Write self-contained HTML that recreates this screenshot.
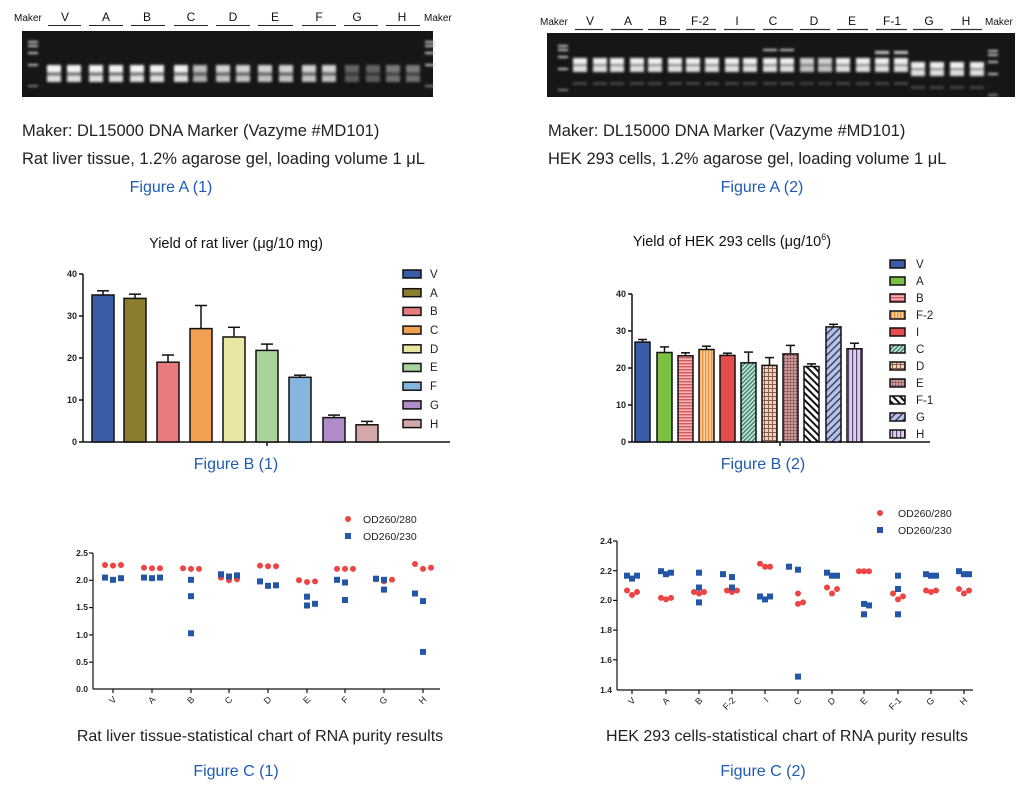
<!DOCTYPE html>
<html><head><meta charset="utf-8"><style>
html,body{margin:0;padding:0;background:#fff}
svg{display:block;font-family:"Liberation Sans",Arial,sans-serif}
</style></head><body>
<svg width="1028" height="792" viewBox="0 0 1028 792" xmlns="http://www.w3.org/2000/svg">
<defs>
<filter id="bl" x="-50%" y="-100%" width="200%" height="300%"><feGaussianBlur stdDeviation="1.4"/></filter>
<g id="ln1" filter="url(#bl)"><rect x="-7" y="65" width="14" height="7" fill="#f4f4f4"/><rect x="-7" y="76" width="14" height="6" fill="#e0e0e0"/><rect x="-7" y="72" width="14" height="4" fill="#777"/></g>
<g id="ln2" filter="url(#bl)"><rect x="-7" y="58" width="14" height="6" fill="#f0f0f0"/><rect x="-7" y="66" width="14" height="6" fill="#e0e0e0"/><rect x="-7" y="64" width="14" height="2" fill="#666"/><rect x="-7" y="82" width="14" height="3" fill="#444"/></g>
<g id="mk" filter="url(#bl)" fill="#ccc"><rect x="-5" y="0" width="10" height="2"/><rect x="-5" y="4" width="10" height="2"/><rect x="-5" y="11" width="10" height="2"/><rect x="-5" y="23" width="10" height="2"/><rect x="-5" y="44" width="10" height="2" opacity=".6"/></g>
<pattern id="pB" width="4" height="3" patternUnits="userSpaceOnUse"><rect width="4" height="3" fill="#f2b4b4"/><rect width="4" height="1.4" fill="#d9585e"/></pattern>
<pattern id="pF2" width="3" height="4" patternUnits="userSpaceOnUse"><rect width="3" height="4" fill="#fbd2a0"/><rect width="1.4" height="4" fill="#e8903a"/></pattern>
<pattern id="pC" width="3" height="3" patternUnits="userSpaceOnUse" patternTransform="rotate(45)"><rect width="3" height="3" fill="#cfe6dc"/><rect width="1.5" height="3" fill="#3f8a72"/></pattern>
<pattern id="pD" width="4" height="4" patternUnits="userSpaceOnUse"><rect width="4" height="4" fill="#e8d4c4"/><rect width="1" height="4" fill="#8a6048"/><rect width="4" height="1" fill="#8a6048"/></pattern>
<pattern id="pE" width="3" height="3" patternUnits="userSpaceOnUse"><rect width="3" height="3" fill="#c89898"/><circle cx="1.5" cy="1.5" r="0.9" fill="#6a3a3a"/></pattern>
<pattern id="pF1" width="5" height="5" patternUnits="userSpaceOnUse" patternTransform="rotate(-45)"><rect width="5" height="5" fill="#fff"/><rect width="2" height="5" fill="#111"/></pattern>
<pattern id="pG" width="5" height="5" patternUnits="userSpaceOnUse" patternTransform="rotate(45)"><rect width="5" height="5" fill="#b8c2e4"/><rect width="1.3" height="5" fill="#2a3460"/></pattern>
<pattern id="pH" width="4" height="4" patternUnits="userSpaceOnUse"><rect width="4" height="4" fill="#ddd0ee"/><rect width="1.2" height="4" fill="#5a4a70"/></pattern>
</defs>

<!-- Gel 1 -->
<g font-size="12" fill="#111">
<text x="14" y="21" font-size="10">Maker</text>
<text x="424" y="21" font-size="10">Maker</text>
<g text-anchor="middle">
<text x="65" y="21">V</text><text x="106" y="21">A</text><text x="147" y="21">B</text><text x="191" y="21">C</text><text x="233" y="21">D</text><text x="275" y="21">E</text><text x="319" y="21">F</text><text x="357" y="21">G</text><text x="402" y="21">H</text>
</g>
<g stroke="#222" stroke-width="1">
<line x1="48" y1="25.5" x2="81" y2="25.5"/><line x1="89" y1="25.5" x2="123" y2="25.5"/><line x1="131" y1="25.5" x2="165" y2="25.5"/><line x1="174" y1="25.5" x2="208" y2="25.5"/><line x1="216" y1="25.5" x2="250" y2="25.5"/><line x1="258" y1="25.5" x2="293" y2="25.5"/><line x1="302" y1="25.5" x2="336" y2="25.5"/><line x1="344" y1="25.5" x2="378" y2="25.5"/><line x1="386" y1="25.5" x2="420" y2="25.5"/>
</g></g>
<rect x="22" y="31" width="411" height="66" fill="#161616"/>
<use href="#mk" x="33" y="41"/><use href="#mk" x="430" y="41"/>
<use href="#ln1" x="54"/><use href="#ln1" x="74"/><use href="#ln1" x="96"/><use href="#ln1" x="116"/><use href="#ln1" x="137"/><use href="#ln1" x="157"/><use href="#ln1" x="181"/><use href="#ln1" x="200" opacity=".75"/><use href="#ln1" x="223" opacity=".85"/><use href="#ln1" x="243" opacity=".85"/><use href="#ln1" x="265" opacity=".85"/><use href="#ln1" x="286" opacity=".85"/><use href="#ln1" x="309" opacity=".85"/><use href="#ln1" x="329" opacity=".85"/><use href="#ln1" x="352" opacity=".35"/><use href="#ln1" x="373" opacity=".35"/><use href="#ln1" x="393" opacity=".45"/><use href="#ln1" x="413" opacity=".45"/>

<!-- Gel 2 -->
<g font-size="12" fill="#111">
<text x="540" y="25" font-size="10">Maker</text>
<text x="985" y="25" font-size="10">Maker</text>
<g text-anchor="middle">
<text x="590" y="25">V</text><text x="628" y="25">A</text><text x="663" y="25">B</text><text x="700" y="25">F-2</text><text x="737" y="25">I</text><text x="773" y="25">C</text><text x="814" y="25">D</text><text x="852" y="25">E</text><text x="892" y="25">F-1</text><text x="929" y="25">G</text><text x="966" y="25">H</text>
</g>
<g stroke="#333" stroke-width="1.2">
<line x1="575" y1="29.5" x2="603" y2="29.5"/><line x1="611" y1="29.5" x2="643" y2="29.5"/><line x1="648" y1="29.5" x2="680" y2="29.5"/><line x1="686" y1="29.5" x2="716" y2="29.5"/><line x1="724" y1="29.5" x2="755" y2="29.5"/><line x1="763" y1="29.5" x2="793" y2="29.5"/><line x1="800" y1="29.5" x2="830" y2="29.5"/><line x1="837" y1="29.5" x2="868" y2="29.5"/><line x1="876" y1="29.5" x2="907" y2="29.5"/><line x1="913" y1="29.5" x2="943" y2="29.5"/><line x1="951" y1="29.5" x2="982" y2="29.5"/>
</g></g>
<rect x="547" y="33" width="468" height="64" fill="#161616"/>
<use href="#mk" x="563" y="45"/><use href="#mk" x="993" y="50"/>
<use href="#ln2" x="580"/><use href="#ln2" x="600"/><use href="#ln2" x="617"/><use href="#ln2" x="637"/><use href="#ln2" x="655"/><use href="#ln2" x="675"/><use href="#ln2" x="693"/><use href="#ln2" x="712"/><use href="#ln2" x="732"/><use href="#ln2" x="750"/><use href="#ln2" x="770"/><use href="#ln2" x="787"/><use href="#ln2" x="807" opacity=".85"/><use href="#ln2" x="825" opacity=".85"/><use href="#ln2" x="843"/><use href="#ln2" x="863"/><use href="#ln2" x="882"/><use href="#ln2" x="901"/><use href="#ln2" x="918" y="4"/><use href="#ln2" x="937" y="4"/><use href="#ln2" x="957" y="4"/><use href="#ln2" x="977" y="4"/>
<g fill="#ccc" filter="url(#bl)"><rect x="763" y="49" width="14" height="2"/><rect x="780" y="49" width="14" height="2"/><rect x="875" y="51" width="14" height="3"/><rect x="894" y="51" width="14" height="3"/></g>

<!-- captions A -->
<g font-size="16.5" fill="#222">
<text x="22" y="136">Maker: DL15000 DNA Marker (Vazyme #MD101)</text>
<text x="22" y="164">Rat liver tissue, 1.2% agarose gel, loading volume 1 μL</text>
<text x="548" y="136">Maker: DL15000 DNA Marker (Vazyme #MD101)</text>
<text x="548" y="164">HEK 293 cells, 1.2% agarose gel, loading volume 1 μL</text>
</g>
<g font-size="16" fill="#1f5bb5" text-anchor="middle">
<text x="171" y="192">Figure A (1)</text>
<text x="762" y="192">Figure A (2)</text>
<text x="236" y="469">Figure B (1)</text>
<text x="763" y="469">Figure B (2)</text>
<text x="236" y="776">Figure C (1)</text>
<text x="763" y="776">Figure C (2)</text>
</g>
<g font-size="16" fill="#222" text-anchor="middle">
<text x="260" y="741">Rat liver tissue-statistical chart of RNA purity results</text>
<text x="787" y="741">HEK 293 cells-statistical chart of RNA purity results</text>
</g>

<!-- Bar chart 1 -->
<text x="236" y="248" font-size="14.5" fill="#111" text-anchor="middle">Yield of rat liver (μg/10 mg)</text>
<g stroke="#111" stroke-width="1.5" fill="none">
<line x1="83" y1="274" x2="83" y2="442"/><line x1="83" y1="442" x2="450" y2="442"/>
<line x1="79" y1="274" x2="83" y2="274"/><line x1="79" y1="316" x2="83" y2="316"/><line x1="79" y1="358" x2="83" y2="358"/><line x1="79" y1="400" x2="83" y2="400"/><line x1="79" y1="442" x2="83" y2="442"/><line x1="267" y1="442" x2="267" y2="446"/>
</g>
<g font-size="9" font-weight="bold" fill="#222" text-anchor="end">
<text x="77" y="277">40</text><text x="77" y="319">30</text><text x="77" y="361">20</text><text x="77" y="403">10</text><text x="77" y="445">0</text>
</g>
<g stroke="#111" stroke-width="1.5">
<line x1="103" y1="295" x2="103" y2="290.8"/><line x1="97" y1="290.8" x2="109" y2="290.8"/>
<line x1="135" y1="298" x2="135" y2="294.2"/><line x1="129" y1="294.2" x2="141" y2="294.2"/>
<line x1="168" y1="362" x2="168" y2="355"/><line x1="162" y1="355" x2="174" y2="355"/>
<line x1="201" y1="328" x2="201" y2="305.5"/><line x1="195" y1="305.5" x2="207" y2="305.5"/>
<line x1="234" y1="337" x2="234" y2="327.3"/><line x1="228" y1="327.3" x2="240" y2="327.3"/>
<line x1="267" y1="350" x2="267" y2="344.1"/><line x1="261" y1="344.1" x2="273" y2="344.1"/>
<line x1="300" y1="377" x2="300" y2="375.2"/><line x1="294" y1="375.2" x2="306" y2="375.2"/>
<line x1="334" y1="417" x2="334" y2="415.1"/><line x1="328" y1="415.1" x2="340" y2="415.1"/>
<line x1="367" y1="424" x2="367" y2="421.4"/><line x1="361" y1="421.4" x2="373" y2="421.4"/>
<rect x="92" y="295" width="22" height="147" fill="#3a5da8"/>
<rect x="124" y="298.4" width="22" height="143.6" fill="#8b7d2e"/>
<rect x="157" y="362.2" width="22" height="79.8" fill="#e97b7f"/>
<rect x="190" y="328.6" width="22" height="113.4" fill="#f0a050"/>
<rect x="223" y="337" width="22" height="105" fill="#e8e8a4"/>
<rect x="256" y="350.4" width="22" height="91.6" fill="#a8d39a"/>
<rect x="289" y="377.3" width="22" height="64.7" fill="#86b6e0"/>
<rect x="323" y="417.6" width="22" height="24.4" fill="#b08cc8"/>
<rect x="356" y="424.8" width="22" height="17.2" fill="#d4a8a8"/>
</g>
<g stroke="#111" stroke-width="1.5">
<rect x="403" y="270" width="18" height="8" fill="#3a5da8"/>
<rect x="403" y="288.7" width="18" height="8" fill="#8b7d2e"/>
<rect x="403" y="307.4" width="18" height="8" fill="#e97b7f"/>
<rect x="403" y="326.1" width="18" height="8" fill="#f0a050"/>
<rect x="403" y="344.8" width="18" height="8" fill="#e8e8a4"/>
<rect x="403" y="363.5" width="18" height="8" fill="#a8d39a"/>
<rect x="403" y="382.2" width="18" height="8" fill="#86b6e0"/>
<rect x="403" y="400.9" width="18" height="8" fill="#b08cc8"/>
<rect x="403" y="419.6" width="18" height="8" fill="#d4a8a8"/>
</g>
<g font-size="11.5" fill="#222">
<text x="430" y="278">V</text><text x="430" y="297">A</text><text x="430" y="315">B</text><text x="430" y="334">C</text><text x="430" y="353">D</text><text x="430" y="371">E</text><text x="430" y="390">F</text><text x="430" y="409">G</text><text x="430" y="428">H</text>
</g>

<!-- Bar chart 2 -->
<text x="732" y="246" font-size="14.5" fill="#111" text-anchor="middle">Yield of HEK 293 cells (μg/10<tspan font-size="9" dy="-6">6</tspan><tspan dy="6">)</tspan></text>
<g stroke="#111" stroke-width="1.5" fill="none">
<line x1="632" y1="294" x2="632" y2="442"/><line x1="632" y1="442" x2="930" y2="442"/>
<line x1="628" y1="294" x2="632" y2="294"/><line x1="628" y1="331" x2="632" y2="331"/><line x1="628" y1="368" x2="632" y2="368"/><line x1="628" y1="405" x2="632" y2="405"/><line x1="628" y1="442" x2="632" y2="442"/><line x1="780" y1="442" x2="780" y2="446"/>
</g>
<g font-size="9" font-weight="bold" fill="#222" text-anchor="end">
<text x="626" y="297">40</text><text x="626" y="334">30</text><text x="626" y="371">20</text><text x="626" y="408">10</text><text x="626" y="445">0</text>
</g>
<g stroke="#111" stroke-width="1.5">
<line x1="642.5" y1="342" x2="642.5" y2="339.5"/><line x1="638" y1="339.5" x2="647" y2="339.5"/>
<line x1="664.5" y1="352" x2="664.5" y2="346.9"/><line x1="660" y1="346.9" x2="669" y2="346.9"/>
<line x1="685.5" y1="355" x2="685.5" y2="352.8"/><line x1="681" y1="352.8" x2="690" y2="352.8"/>
<line x1="706.5" y1="349" x2="706.5" y2="346.2"/><line x1="702" y1="346.2" x2="711" y2="346.2"/>
<line x1="727.5" y1="355" x2="727.5" y2="353.2"/><line x1="723" y1="353.2" x2="732" y2="353.2"/>
<line x1="748.5" y1="362" x2="748.5" y2="352.1"/><line x1="744" y1="352.1" x2="753" y2="352.1"/>
<line x1="769.5" y1="365" x2="769.5" y2="357.6"/><line x1="765" y1="357.6" x2="774" y2="357.6"/>
<line x1="790.5" y1="353" x2="790.5" y2="345.4"/><line x1="786" y1="345.4" x2="795" y2="345.4"/>
<line x1="811.5" y1="366" x2="811.5" y2="363.9"/><line x1="807" y1="363.9" x2="816" y2="363.9"/>
<line x1="833.5" y1="326" x2="833.5" y2="324.3"/><line x1="829" y1="324.3" x2="838" y2="324.3"/>
<line x1="854.5" y1="348" x2="854.5" y2="343.2"/><line x1="850" y1="343.2" x2="859" y2="343.2"/>
<rect x="635" y="342.1" width="15" height="99.9" fill="#3a5da8"/>
<rect x="657" y="352.5" width="15" height="89.5" fill="#7cc242"/>
<rect x="678" y="355.8" width="15" height="86.2" fill="url(#pB)"/>
<rect x="699" y="349.5" width="15" height="92.5" fill="url(#pF2)"/>
<rect x="720" y="355.4" width="15" height="86.6" fill="#e84b4b"/>
<rect x="741" y="362.8" width="15" height="79.2" fill="url(#pC)"/>
<rect x="762" y="365.4" width="15" height="76.6" fill="url(#pD)"/>
<rect x="783" y="353.9" width="15" height="88.1" fill="url(#pE)"/>
<rect x="804" y="366.5" width="15" height="75.5" fill="url(#pF1)"/>
<rect x="826" y="326.9" width="15" height="115.1" fill="url(#pG)"/>
<rect x="847" y="348.8" width="15" height="93.2" fill="url(#pH)"/>
</g>
<g stroke="#111" stroke-width="1.5">
<rect x="890" y="260" width="15" height="8" fill="#3a5da8"/>
<rect x="890" y="277" width="15" height="8" fill="#7cc242"/>
<rect x="890" y="294" width="15" height="8" fill="url(#pB)"/>
<rect x="890" y="311" width="15" height="8" fill="url(#pF2)"/>
<rect x="890" y="328" width="15" height="8" fill="#e84b4b"/>
<rect x="890" y="345" width="15" height="8" fill="url(#pC)"/>
<rect x="890" y="362" width="15" height="8" fill="url(#pD)"/>
<rect x="890" y="379" width="15" height="8" fill="url(#pE)"/>
<rect x="890" y="396" width="15" height="8" fill="url(#pF1)"/>
<rect x="890" y="413" width="15" height="8" fill="url(#pG)"/>
<rect x="890" y="430" width="15" height="8" fill="url(#pH)"/>
</g>
<g font-size="11.5" fill="#222">
<text x="916" y="268">V</text><text x="916" y="285">A</text><text x="916" y="302">B</text><text x="916" y="319">F-2</text><text x="916" y="336">I</text><text x="916" y="353">C</text><text x="916" y="370">D</text><text x="916" y="387">E</text><text x="916" y="404">F-1</text><text x="916" y="421">G</text><text x="916" y="438">H</text>
</g>

<!-- Scatter 1 -->
<circle cx="348" cy="519" r="3" fill="#ee4444"/><rect x="345" y="533" width="6" height="6" fill="#2456a8"/>
<text x="363" y="523" font-size="10.5" fill="#222">OD260/280</text>
<text x="363" y="540" font-size="10.5" fill="#222">OD260/230</text>
<g stroke="#111" stroke-width="1.2" fill="none">
<line x1="93" y1="553" x2="93" y2="689"/><line x1="93" y1="689" x2="440" y2="689"/>
<line x1="89" y1="553" x2="93" y2="553"/><line x1="89" y1="580.3" x2="93" y2="580.3"/><line x1="89" y1="607.6" x2="93" y2="607.6"/><line x1="89" y1="634.9" x2="93" y2="634.9"/><line x1="89" y1="662.2" x2="93" y2="662.2"/>
<line x1="113" y1="689" x2="113" y2="693"/><line x1="152" y1="689" x2="152" y2="693"/><line x1="191" y1="689" x2="191" y2="693"/><line x1="229" y1="689" x2="229" y2="693"/><line x1="268" y1="689" x2="268" y2="693"/><line x1="307" y1="689" x2="307" y2="693"/><line x1="345" y1="689" x2="345" y2="693"/><line x1="384" y1="689" x2="384" y2="693"/><line x1="423" y1="689" x2="423" y2="693"/>
</g>
<g font-size="8.5" font-weight="bold" fill="#222" text-anchor="end">
<text x="88" y="556">2.5</text><text x="88" y="583">2.0</text><text x="88" y="610">1.5</text><text x="88" y="638">1.0</text><text x="88" y="665">0.5</text><text x="88" y="692">0.0</text>
</g>
<g font-size="9" fill="#222" text-anchor="end">
<text transform="translate(117,700) rotate(-45)">V</text><text transform="translate(156,700) rotate(-45)">A</text><text transform="translate(195,700) rotate(-45)">B</text><text transform="translate(233,700) rotate(-45)">C</text><text transform="translate(272,700) rotate(-45)">D</text><text transform="translate(311,700) rotate(-45)">E</text><text transform="translate(349,700) rotate(-45)">F</text><text transform="translate(388,700) rotate(-45)">G</text><text transform="translate(427,700) rotate(-45)">H</text>
</g>
<g fill="#ee4444">
<circle cx="105" cy="565" r="3"/><circle cx="113" cy="565.6" r="3"/><circle cx="121" cy="565" r="3"/>
<circle cx="144" cy="567.8" r="3"/><circle cx="152" cy="568.3" r="3"/><circle cx="160" cy="568.3" r="3"/>
<circle cx="183" cy="568.3" r="3"/><circle cx="191" cy="568.9" r="3"/><circle cx="199" cy="568.9" r="3"/>
<circle cx="221" cy="577.6" r="3"/><circle cx="229" cy="580.3" r="3"/><circle cx="237" cy="579.3" r="3"/>
<circle cx="260" cy="565.6" r="3"/><circle cx="268" cy="566.2" r="3"/><circle cx="276" cy="566.2" r="3"/>
<circle cx="299" cy="580.3" r="3"/><circle cx="307" cy="582" r="3"/><circle cx="315" cy="581.4" r="3"/>
<circle cx="337" cy="568.9" r="3"/><circle cx="345" cy="568.9" r="3"/><circle cx="353" cy="568.9" r="3"/>
<circle cx="376" cy="579.3" r="3"/><circle cx="384" cy="581.4" r="3"/><circle cx="392" cy="579.8" r="3"/>
<circle cx="415" cy="564" r="3"/><circle cx="423" cy="568.9" r="3"/><circle cx="431" cy="567.8" r="3"/>
</g>
<g fill="#2456a8">
<rect x="102" y="574.6" width="6" height="6"/><rect x="110" y="576.8" width="6" height="6"/><rect x="118" y="575.2" width="6" height="6"/>
<rect x="141" y="574.6" width="6" height="6"/><rect x="149" y="575.2" width="6" height="6"/><rect x="157" y="574.6" width="6" height="6"/>
<rect x="188" y="576.8" width="6" height="6"/><rect x="188" y="593.2" width="6" height="6"/><rect x="188" y="630.3" width="6" height="6"/>
<rect x="218" y="571.3" width="6" height="6"/><rect x="226" y="573.5" width="6" height="6"/><rect x="234" y="572.4" width="6" height="6"/>
<rect x="257" y="578.4" width="6" height="6"/><rect x="265" y="582.8" width="6" height="6"/><rect x="273" y="582.3" width="6" height="6"/>
<rect x="304" y="593.7" width="6" height="6"/><rect x="304" y="602.5" width="6" height="6"/><rect x="312" y="600.8" width="6" height="6"/>
<rect x="334" y="576.8" width="6" height="6"/><rect x="342" y="579.5" width="6" height="6"/><rect x="342" y="597" width="6" height="6"/>
<rect x="373" y="575.7" width="6" height="6"/><rect x="381" y="576.8" width="6" height="6"/><rect x="381" y="586.6" width="6" height="6"/>
<rect x="412" y="590.5" width="6" height="6"/><rect x="420" y="598.1" width="6" height="6"/><rect x="420" y="648.9" width="6" height="6"/>
</g>

<!-- Scatter 2 -->
<circle cx="880" cy="513" r="3" fill="#ee4444"/><rect x="877" y="527" width="6" height="6" fill="#2456a8"/>
<text x="898" y="517" font-size="10.5" fill="#222">OD260/280</text>
<text x="898" y="534" font-size="10.5" fill="#222">OD260/230</text>
<g stroke="#111" stroke-width="1.2" fill="none">
<line x1="617" y1="541" x2="617" y2="690"/><line x1="617" y1="690" x2="973" y2="690"/>
<line x1="613" y1="541" x2="617" y2="541"/><line x1="613" y1="570.7" x2="617" y2="570.7"/><line x1="613" y1="600.4" x2="617" y2="600.4"/><line x1="613" y1="630.1" x2="617" y2="630.1"/><line x1="613" y1="659.8" x2="617" y2="659.8"/>
<line x1="632" y1="690" x2="632" y2="694"/><line x1="666" y1="690" x2="666" y2="694"/><line x1="699" y1="690" x2="699" y2="694"/><line x1="732" y1="690" x2="732" y2="694"/><line x1="765" y1="690" x2="765" y2="694"/><line x1="798" y1="690" x2="798" y2="694"/><line x1="832" y1="690" x2="832" y2="694"/><line x1="864" y1="690" x2="864" y2="694"/><line x1="898" y1="690" x2="898" y2="694"/><line x1="931" y1="690" x2="931" y2="694"/><line x1="964" y1="690" x2="964" y2="694"/>
</g>
<g font-size="8.5" font-weight="bold" fill="#222" text-anchor="end">
<text x="612" y="544">2.4</text><text x="612" y="574">2.2</text><text x="612" y="603">2.0</text><text x="612" y="633">1.8</text><text x="612" y="663">1.6</text><text x="612" y="693">1.4</text>
</g>
<g font-size="9" fill="#222" text-anchor="end">
<text transform="translate(636,701) rotate(-45)">V</text><text transform="translate(670,701) rotate(-45)">A</text><text transform="translate(703,701) rotate(-45)">B</text><text transform="translate(736,701) rotate(-45)">F-2</text><text transform="translate(769,701) rotate(-45)">I</text><text transform="translate(802,701) rotate(-45)">C</text><text transform="translate(836,701) rotate(-45)">D</text><text transform="translate(868,701) rotate(-45)">E</text><text transform="translate(902,701) rotate(-45)">F-1</text><text transform="translate(935,701) rotate(-45)">G</text><text transform="translate(968,701) rotate(-45)">H</text>
</g>
<g fill="#ee4444">
<circle cx="627" cy="590.5" r="3"/><circle cx="632" cy="595" r="3"/><circle cx="637" cy="592" r="3"/>
<circle cx="661" cy="597.9" r="3"/><circle cx="666" cy="599.4" r="3"/><circle cx="671" cy="597.9" r="3"/>
<circle cx="694" cy="592" r="3"/><circle cx="699" cy="593.5" r="3"/><circle cx="704" cy="592" r="3"/>
<circle cx="727" cy="590.5" r="3"/><circle cx="732" cy="592" r="3"/><circle cx="737" cy="590.5" r="3"/>
<circle cx="760" cy="563.8" r="3"/><circle cx="765" cy="566.7" r="3"/><circle cx="770" cy="566.7" r="3"/>
<circle cx="798" cy="593.5" r="3"/><circle cx="798" cy="603.9" r="3"/><circle cx="803" cy="602.4" r="3"/>
<circle cx="827" cy="587.5" r="3"/><circle cx="832" cy="593.5" r="3"/><circle cx="837" cy="589" r="3"/>
<circle cx="859" cy="571.2" r="3"/><circle cx="864" cy="571.2" r="3"/><circle cx="869" cy="571.2" r="3"/>
<circle cx="893" cy="593.5" r="3"/><circle cx="898" cy="599.4" r="3"/><circle cx="903" cy="596.4" r="3"/>
<circle cx="926" cy="590.5" r="3"/><circle cx="931" cy="592" r="3"/><circle cx="936" cy="590.5" r="3"/>
<circle cx="959" cy="589" r="3"/><circle cx="964" cy="593.5" r="3"/><circle cx="969" cy="590.5" r="3"/>
</g>
<g fill="#2456a8">
<rect x="624" y="572.7" width="6" height="6"/><rect x="629" y="575.6" width="6" height="6"/><rect x="634" y="572.7" width="6" height="6"/>
<rect x="658" y="568.2" width="6" height="6"/><rect x="663" y="571.2" width="6" height="6"/><rect x="668" y="569.7" width="6" height="6"/>
<rect x="696" y="569.7" width="6" height="6"/><rect x="696" y="584.5" width="6" height="6"/><rect x="696" y="599.4" width="6" height="6"/>
<rect x="720" y="571.2" width="6" height="6"/><rect x="729" y="574.1" width="6" height="6"/><rect x="729" y="584.5" width="6" height="6"/>
<rect x="757" y="593.5" width="6" height="6"/><rect x="762" y="596.4" width="6" height="6"/><rect x="767" y="593.5" width="6" height="6"/>
<rect x="786" y="563.7" width="6" height="6"/><rect x="795" y="566.7" width="6" height="6"/><rect x="795" y="673.6" width="6" height="6"/>
<rect x="824" y="569.7" width="6" height="6"/><rect x="829" y="572.7" width="6" height="6"/><rect x="834" y="572.7" width="6" height="6"/>
<rect x="861" y="600.9" width="6" height="6"/><rect x="866" y="602.4" width="6" height="6"/><rect x="861" y="611.3" width="6" height="6"/>
<rect x="895" y="572.7" width="6" height="6"/><rect x="895" y="586" width="6" height="6"/><rect x="895" y="611.3" width="6" height="6"/>
<rect x="923" y="571.2" width="6" height="6"/><rect x="928" y="572.7" width="6" height="6"/><rect x="933" y="572.7" width="6" height="6"/>
<rect x="956" y="568.2" width="6" height="6"/><rect x="961" y="571.2" width="6" height="6"/><rect x="966" y="571.2" width="6" height="6"/>
</g>
</svg>
</body></html>
